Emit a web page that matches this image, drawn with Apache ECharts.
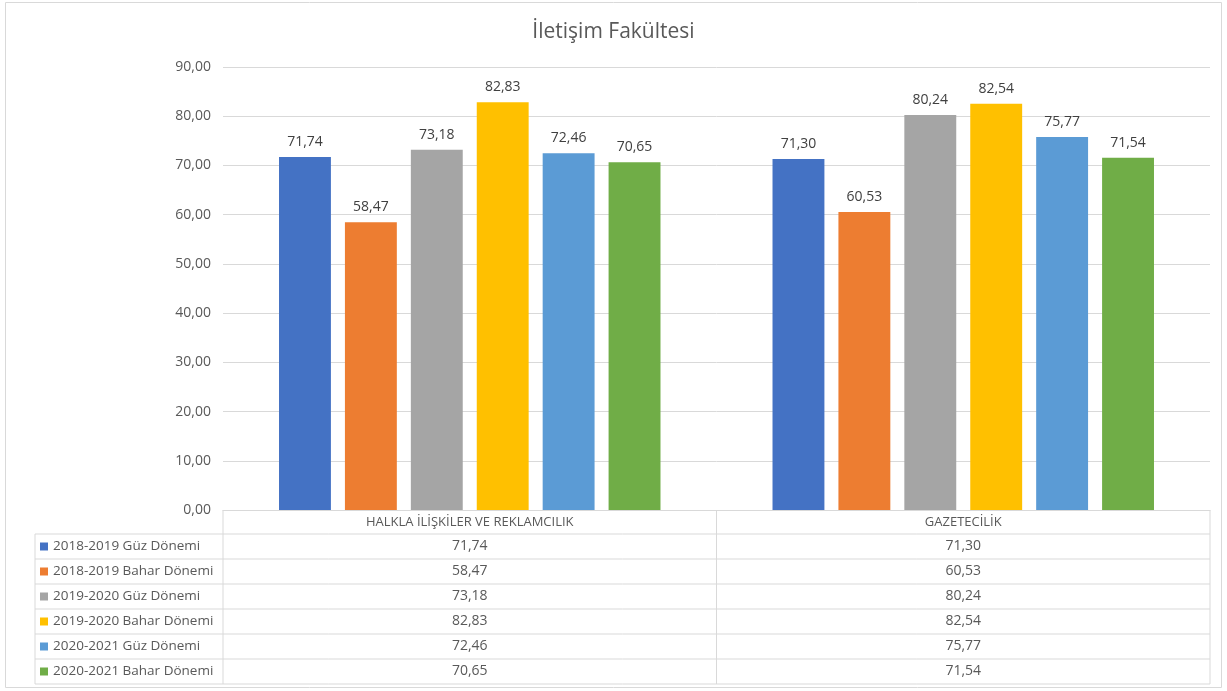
<!DOCTYPE html>
<html>
<head>
<meta charset="utf-8">
<script src="https://cdn.jsdelivr.net/npm/echarts@6/dist/echarts.min.js"></script>
<style>
  html, body { margin: 0; padding: 0; background: #fff; }
  #chart { width: 1227px; height: 691px; }
</style>
</head>
<body>
<div id="chart"></div>
<script>
const title = "İletişim Fakültesi";
const categories = ["HALKLA İLİŞKİLER VE REKLAMCILIK", "GAZETECİLİK"];
const seriesNames = [
  "2018-2019 Güz Dönemi",
  "2018-2019 Bahar Dönemi",
  "2019-2020 Güz Dönemi",
  "2019-2020 Bahar Dönemi",
  "2020-2021 Güz Dönemi",
  "2020-2021 Bahar Dönemi"
];
const colors = ["#4472c4", "#ed7d31", "#a5a5a5", "#ffc000", "#5b9bd5", "#70ad47"];
const values = [
  [71.74, 71.30],
  [58.47, 60.53],
  [73.18, 80.24],
  [82.83, 82.54],
  [72.46, 75.77],
  [70.65, 71.54]
];

const fmt = v => v.toFixed(2).replace(".", ",");
const font = "'Open Sans', 'Noto Sans', sans-serif";

// table layout
const plotLeft = 223, plotRight = 1210, axisY = 510, headerBottom = 534, rowH = 25, tableLeft = 35;
const midX = (plotLeft + plotRight) / 2;
const lineColor = "#d9d9d9";

const graphics = [];
// outer border
graphics.push({ type: "rect", shape: { x: 5.5, y: 2.5, width: 1216, height: 685 }, style: { fill: null, stroke: lineColor, lineWidth: 1 } });
const tableBottom = headerBottom + rowH * seriesNames.length;
// vertical lines
[plotLeft, midX, plotRight].forEach(x => {
  graphics.push({ type: "line", shape: { x1: x, y1: axisY, x2: x, y2: tableBottom }, style: { stroke: lineColor, lineWidth: 1 } });
});
graphics.push({ type: "line", shape: { x1: tableLeft, y1: headerBottom, x2: tableLeft, y2: tableBottom }, style: { stroke: lineColor, lineWidth: 1 } });
// horizontal lines
for (let i = 0; i <= seriesNames.length; i++) {
  const y = headerBottom + rowH * i;
  graphics.push({ type: "line", shape: { x1: tableLeft, y1: y, x2: plotRight, y2: y }, style: { stroke: lineColor, lineWidth: 1 } });
}
// header labels
categories.forEach((c, j) => {
  const cx = j === 0 ? (plotLeft + midX) / 2 : (midX + plotRight) / 2;
  graphics.push({ type: "text", style: { text: c, x: cx, y: (axisY + headerBottom) / 2, align: "center", verticalAlign: "middle", fill: "#595959", font: "13px " + font } });
});
// rows
seriesNames.forEach((name, i) => {
  const cy = headerBottom + rowH * i + rowH / 2;
  graphics.push({ type: "rect", shape: { x: 40, y: cy - 4, width: 8, height: 8 }, style: { fill: colors[i] } });
  graphics.push({ type: "text", style: { text: name, x: 53, y: cy, verticalAlign: "middle", fill: "#595959", font: "13.5px " + font } });
  values[i].forEach((v, j) => {
    const cx = j === 0 ? (plotLeft + midX) / 2 : (midX + plotRight) / 2;
    graphics.push({ type: "text", style: { text: fmt(v), x: cx, y: cy, align: "center", verticalAlign: "middle", fill: "#595959", font: "14px " + font } });
  });
});

const chart = echarts.init(document.getElementById("chart"));
chart.setOption({
  animation: false,
  textStyle: { fontFamily: font },
  title: {
    text: title, left: "center", top: 17,
    textStyle: { fontSize: 21, fontWeight: "normal", color: "#595959", fontFamily: font }
  },
  grid: { left: plotLeft, right: 1227 - plotRight, top: 67, bottom: 691 - axisY },
  xAxis: {
    type: "category",
    data: categories,
    axisLine: { show: true, lineStyle: { color: lineColor } },
    axisTick: { show: false },
    axisLabel: { show: false }
  },
  yAxis: {
    type: "value", min: 0, max: 90, interval: 10,
    axisLine: { show: false }, axisTick: { show: false },
    axisLabel: { formatter: fmt, color: "#595959", fontSize: 14, margin: 12 },
    splitLine: { lineStyle: { color: lineColor } }
  },
  series: seriesNames.map((name, i) => ({
    name: name,
    type: "bar",
    data: values[i],
    itemStyle: { color: colors[i] },
    barGap: "27%",
    barCategoryGap: "22.7%",
    label: { show: true, position: "top", distance: 8, formatter: p => fmt(p.value), color: "#404040", fontSize: 14 }
  })),
  graphic: graphics
});
</script>
</body>
</html>
